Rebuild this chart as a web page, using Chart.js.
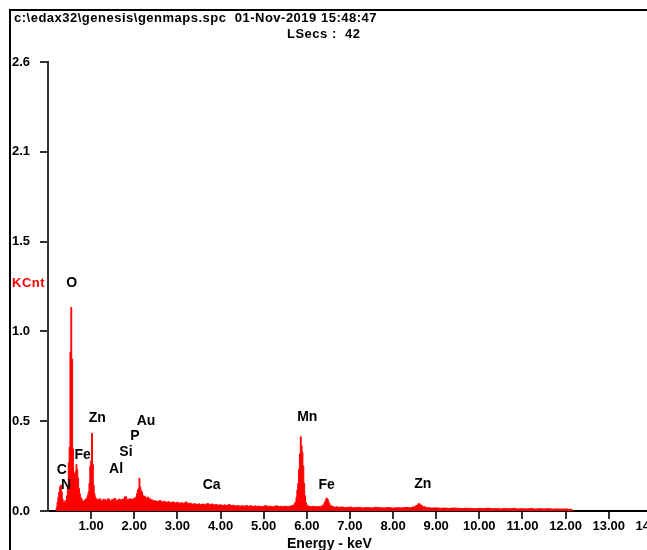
<!DOCTYPE html>
<html><head><meta charset="utf-8">
<script src="https://cdn.jsdelivr.net/npm/chart.js@4/dist/chart.umd.min.js"></script>
<style>
html,body{margin:0;padding:0;background:#fff;overflow:hidden;width:647px;height:550px;}
#wrap{position:relative;width:647px;height:550px;overflow:hidden;}
canvas{position:absolute;left:0;top:0;}
.frame{position:absolute;left:9px;top:9px;width:700px;height:600px;border-left:2px solid #000;border-top:2px solid #000;}
.txt{position:absolute;font-family:"Liberation Sans",Arial,sans-serif;font-weight:bold;white-space:pre;color:#000;line-height:16px;}
</style></head>
<body><div id="wrap">
<canvas id="c" width="695" height="550"></canvas>
<div class="frame"></div>
<div class="txt" style="left:14px;top:10px;font-size:13px;letter-spacing:0.5px;">c:\edax32\genesis\genmaps.spc  01-Nov-2019 15:48:47</div>
<div class="txt" style="left:287px;top:26px;font-size:13px;letter-spacing:0.5px;">LSecs :  42</div>
<div class="txt" style="left:12px;top:275px;font-size:13px;letter-spacing:0.5px;color:#f00;">KCnt</div>
<div class="txt" style="left:287px;top:535px;font-size:14px;">Energy - keV</div>
</div>
<script>
// ---- Spectrum data (energy in keV, counts in KCnt) ----
const lowE = [0.18, 0.20, 0.22, 0.24, 0.26, 0.28, 0.30, 0.32, 0.34, 0.36, 0.38, 0.40, 0.42, 0.44, 0.46, 0.48, 0.50, 0.52, 0.54, 0.56, 0.58, 0.60, 0.62, 0.64, 0.66, 0.68, 0.70, 0.72, 0.74, 0.76, 0.78, 0.80, 0.82, 0.84, 0.86, 0.88, 0.90, 0.92, 0.94, 0.96, 0.98, 1.00, 1.02, 1.04, 1.06, 1.08, 1.10, 1.12];
const lowKCnt = [0, 0.02, 0.05, 0.08, 0.11, 0.14, 0.15, 0.11, 0.07, 0.05, 0.05, 0.06, 0.05, 0.09, 0.14, 0.28, 0.37, 0.92, 1.18, 0.88, 0.36, 0.22, 0.19, 0.23, 0.27, 0.24, 0.19, 0.13, 0.10, 0.08, 0.07, 0.06, 0.055, 0.06, 0.065, 0.07, 0.075, 0.09, 0.11, 0.16, 0.26, 0.29, 0.45, 0.27, 0.15, 0.10, 0.08, 0.07];

const midE = [1.15, 1.20, 1.25, 1.30, 1.35, 1.40, 1.45, 1.50, 1.55, 1.60, 1.65, 1.70, 1.75, 1.80, 1.85, 1.90, 1.95, 2.00, 2.04, 2.06, 2.08, 2.10, 2.12, 2.14, 2.16, 2.18, 2.20, 2.24, 2.28, 2.32, 2.36, 2.40, 2.45];
const midKCnt = [0.065, 0.07, 0.06, 0.068, 0.062, 0.07, 0.058, 0.066, 0.072, 0.06, 0.068, 0.064, 0.07, 0.082, 0.066, 0.07, 0.068, 0.072, 0.08, 0.10, 0.12, 0.13, 0.19, 0.14, 0.12, 0.11, 0.09, 0.085, 0.075, 0.08, 0.07, 0.065, 0.06];

const bgE = [2.50, 2.55, 2.60, 2.65, 2.70, 2.75, 2.80, 2.85, 2.90, 2.95, 3.00, 3.05, 3.10, 3.15, 3.20, 3.25, 3.30, 3.35, 3.40, 3.45, 3.50, 3.55, 3.60, 3.65, 3.70, 3.75, 3.80, 3.85, 3.90, 3.95, 4.00, 4.05, 4.10, 4.15, 4.20, 4.25, 4.30, 4.35, 4.40, 4.45, 4.50, 4.55, 4.60, 4.65, 4.70, 4.75, 4.80, 4.85, 4.90, 4.95, 5.00, 5.05, 5.10, 5.15, 5.20, 5.25, 5.30, 5.35, 5.40, 5.45, 5.50, 5.55, 5.60, 5.65, 5.70];
const bgKCnt = [0.058, 0.055, 0.06, 0.052, 0.056, 0.05, 0.054, 0.048, 0.052, 0.047, 0.05, 0.045, 0.048, 0.044, 0.052, 0.043, 0.045, 0.04, 0.042, 0.038, 0.041, 0.037, 0.04, 0.036, 0.043, 0.038, 0.04, 0.035, 0.037, 0.034, 0.036, 0.032, 0.035, 0.031, 0.038, 0.032, 0.033, 0.029, 0.031, 0.028, 0.03, 0.027, 0.032, 0.028, 0.03, 0.026, 0.029, 0.027, 0.028, 0.025, 0.027, 0.031, 0.026, 0.028, 0.025, 0.027, 0.03, 0.026, 0.027, 0.025, 0.028, 0.026, 0.027, 0.03, 0.035];

const mnE = [5.74, 5.76, 5.78, 5.80, 5.82, 5.84, 5.86, 5.88, 5.90, 5.92, 5.94, 5.96, 5.98, 6.00, 6.04, 6.10, 6.15, 6.20, 6.25, 6.30, 6.35, 6.38, 6.42, 6.44, 6.46, 6.48, 6.50, 6.52, 6.55, 6.60, 6.65, 6.70, 6.75, 6.80, 6.90];
const mnKCnt = [0.05, 0.08, 0.12, 0.16, 0.24, 0.33, 0.43, 0.38, 0.34, 0.26, 0.16, 0.09, 0.05, 0.035, 0.028, 0.025, 0.027, 0.024, 0.026, 0.025, 0.028, 0.035, 0.05, 0.065, 0.075, 0.072, 0.06, 0.045, 0.032, 0.026, 0.022, 0.024, 0.021, 0.023, 0.02];

const highE = [7.00, 7.10, 7.20, 7.30, 7.40, 7.50, 7.60, 7.70, 7.80, 7.90, 8.00, 8.10, 8.20, 8.30, 8.40, 8.50, 8.55, 8.60, 8.65, 8.70, 8.80, 8.90, 9.00, 9.10, 9.20, 9.30, 9.40, 9.50, 9.60, 9.70, 9.80, 9.90, 10.00, 10.10, 10.20, 10.30, 10.40, 10.50, 10.60, 10.70, 10.80, 10.90, 11.00, 11.10, 11.20, 11.30, 11.40, 11.50, 11.60, 11.70, 11.80, 11.90, 12.00, 12.10, 12.20];
const highKCnt = [0.022, 0.019, 0.021, 0.018, 0.02, 0.018, 0.021, 0.019, 0.018, 0.02, 0.017, 0.019, 0.018, 0.02, 0.019, 0.024, 0.032, 0.042, 0.034, 0.025, 0.019, 0.017, 0.018, 0.016, 0.017, 0.015, 0.017, 0.016, 0.014, 0.016, 0.015, 0.013, 0.015, 0.014, 0.016, 0.013, 0.014, 0.012, 0.014, 0.013, 0.015, 0.012, 0.013, 0.012, 0.014, 0.011, 0.013, 0.012, 0.013, 0.011, 0.012, 0.011, 0.012, 0.01, 0];

// ---- Axis ticks ----
const xTickValues = [1, 2, 3, 4, 5, 6, 7, 8, 9, 10, 11, 12, 13, 14];
const yTickValues = [0, 0.52, 1.04, 1.56, 2.08, 2.6];
const yTickLabels = ['0.0', '0.5', '1.0', '1.5', '2.1', '2.6'];

// ---- Peak identification labels ----
const peakNames  = ['C', 'N', 'O', 'Fe', 'Zn', 'Al', 'Si', 'P', 'Au', 'Ca', 'Mn', 'Fe', 'Zn'];
const peakEnergy = [0.318, 0.417, 0.55, 0.805, 1.143, 1.577, 1.808, 2.017, 2.272, 3.795, 6.012, 6.462, 8.688];
const peakLevel  = [0.237, 0.150, 1.322, 0.324, 0.540, 0.243, 0.338, 0.434, 0.523, 0.151, 0.546, 0.151, 0.155];

const energies = [].concat(lowE, midE, bgE, mnE, highE);
const counts = [].concat(lowKCnt, midKCnt, bgKCnt, mnKCnt, highKCnt);
const points = energies.map((e, i) => ({x: e, y: counts[i]}));

const FONT = '"Liberation Sans", Arial, sans-serif';

const peakLabelPlugin = {
  id: 'peakLabels',
  afterDatasetsDraw(chart) {
    const {ctx} = chart;
    const x = chart.scales.x, y = chart.scales.y;
    ctx.save();
    ctx.font = 'bold 14px ' + FONT;
    ctx.fillStyle = '#000';
    ctx.textAlign = 'center';
    ctx.textBaseline = 'middle';
    peakNames.forEach((n, i) => {
      ctx.fillText(n, x.getPixelForValue(peakEnergy[i]), y.getPixelForValue(peakLevel[i]));
    });
    ctx.restore();
  }
};

new Chart(document.getElementById('c'), {
  type: 'line',
  data: {
    datasets: [{
      data: points,
      stepped: 'middle',
      fill: 'origin',
      backgroundColor: '#ff0000',
      borderColor: '#ff0000',
      borderWidth: 1,
      pointRadius: 0
    }]
  },
  options: {
    responsive: false,
    animation: false,
    devicePixelRatio: 1,
    layout: {padding: {left: 12, top: 62, right: 0, bottom: 0}},
    plugins: {legend: {display: false}, tooltip: {enabled: false}, title: {display: false}},
    scales: {
      x: {
        type: 'linear',
        min: 0, max: 15,
        z: 1,
        afterBuildTicks: s => { s.ticks = xTickValues.map(v => ({value: v})); },
        afterFit: s => { s.height = 39; s.paddingLeft = 0; s.paddingRight = 0; },
        ticks: {
          autoSkip: false, maxRotation: 0, padding: 0,
          color: '#000',
          font: {family: FONT, size: 13, weight: 'bold'},
          callback: v => Number(v).toFixed(2)
        },
        grid: {drawOnChartArea: false, drawTicks: true, tickLength: 8, color: '#333', lineWidth: 2},
        border: {display: true, color: '#000', width: 2}
      },
      y: {
        type: 'linear',
        min: 0, max: 2.6,
        afterBuildTicks: s => { s.ticks = yTickValues.map(v => ({value: v})); },
        afterFit: s => { s.width = 36; s.paddingTop = 0; s.paddingBottom = 0; },
        ticks: {
          crossAlign: 'far', padding: 2,
          color: '#000',
          font: {family: FONT, size: 13, weight: 'bold'},
          callback: (v, i) => yTickLabels[i]
        },
        grid: {drawOnChartArea: false, drawTicks: true, tickLength: 8, color: '#333', lineWidth: 2},
        border: {display: true, color: '#333', width: 2}
      }
    }
  },
  plugins: [peakLabelPlugin]
});
</script>
</body></html>
